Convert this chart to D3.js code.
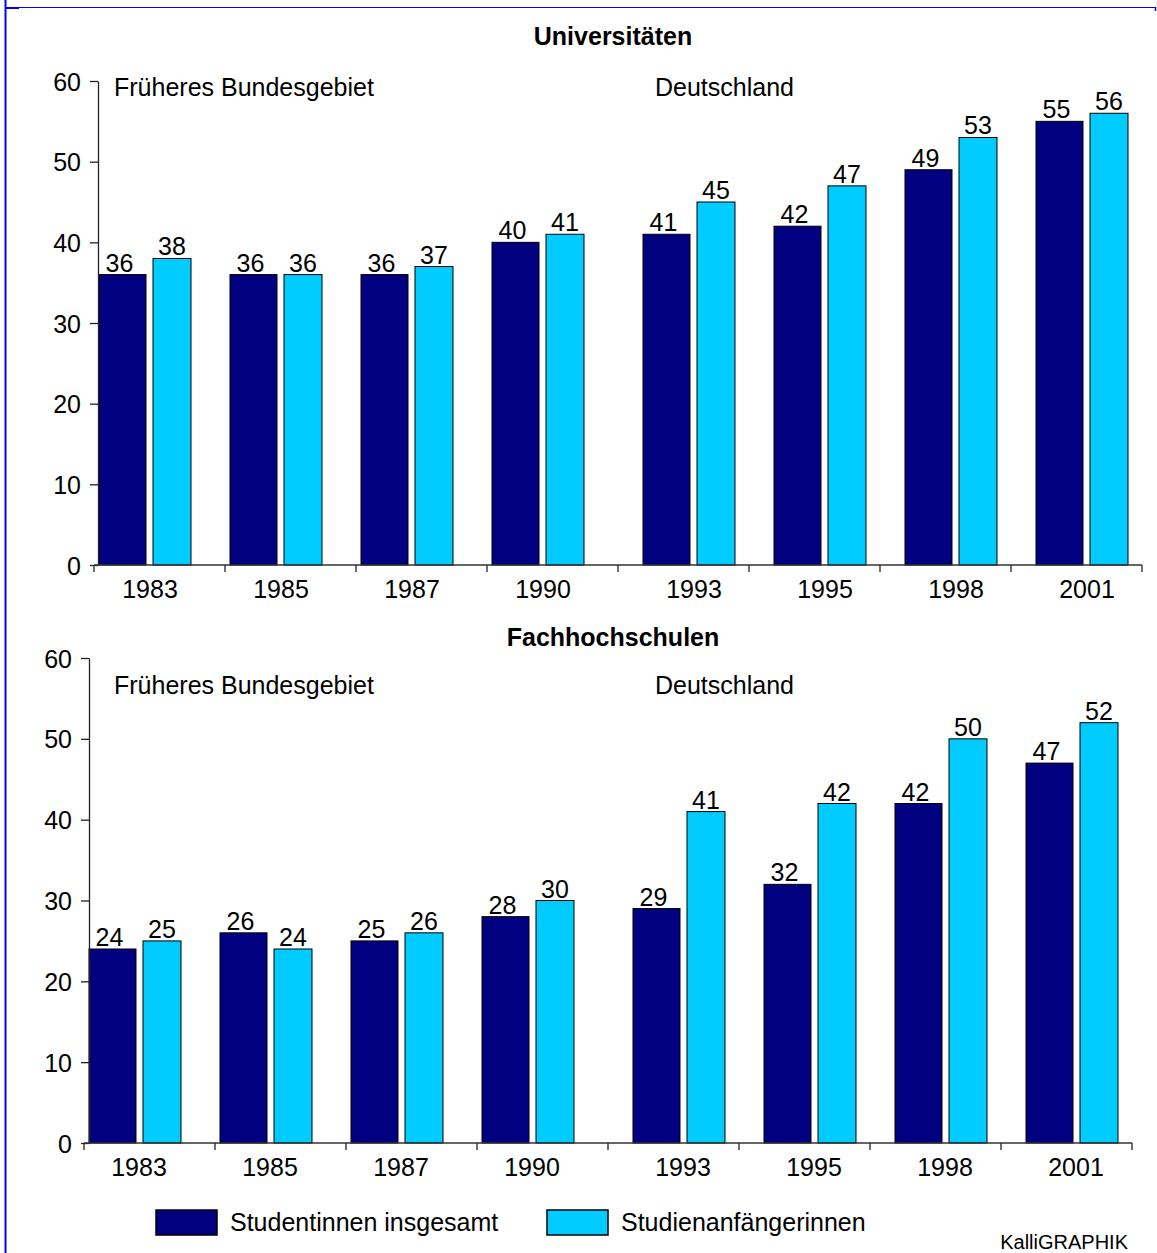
<!DOCTYPE html>
<html>
<head>
  <meta charset="utf-8">
  <title>Studentinnen und Studienanfängerinnen</title>
  <script src="https://d3js.org/d3.v7.min.js"></script>
  <style>
    body { margin: 0; overflow: hidden; background: #fff; }
    text { font-family: "Liberation Sans", Arial, sans-serif; fill: #000; }
  </style>
</head>
<body>
<svg width="1157" height="1253"></svg>
<script>
// --- Daten ---
const jahre = ["1983","1985","1987","1990","1993","1995","1998","2001"];
const gebiet = ["FB","FB","FB","FB","D","D","D","D"];
const uniInsgesamt = [36,36,36,40,41,42,49,55];
const uniAnfaenger = [38,36,37,41,45,47,53,56];
const fhInsgesamt = [24,26,25,28,29,32,42,47];
const fhAnfaenger = [25,24,26,30,41,42,50,52];
const yTicks = [0,10,20,30,40,50,60];
const serien = ["Studentinnen insgesamt","Studienanfängerinnen"];
const farben = ["#000080","#00CCFF"];

const svg = d3.select("svg");
const fs = "25px";

// blauer Rahmen
svg.append("line").attr("x1",5.5).attr("x2",5.5).attr("y1",0).attr("y2",1253)
  .attr("stroke","#0000ff").attr("stroke-width",2);
svg.append("line").attr("x1",5).attr("x2",1156).attr("y1",7.5).attr("y2",7.5)
  .attr("stroke","#0000ff").attr("stroke-width",1.2);
svg.append("rect").attr("x",6).attr("y",7).attr("width",13).attr("height",2).attr("fill","#0000ff");
svg.append("line").attr("x1",1155.5).attr("x2",1155.5).attr("y1",7).attr("y2",11)
  .attr("stroke","#0000ff").attr("stroke-width",1.5);

// Panel-Definitionen
const panels = [
  {titel:"Universitäten", a:uniInsgesamt, b:uniAnfaenger, titelY:45,
   y0:565, y1:81, axisX:98, x0:94, x1:1142, regionY:96, labelY:598, lblShift:5},
  {titel:"Fachhochschulen", a:fhInsgesamt, b:fhAnfaenger, titelY:646,
   y0:1143, y1:658, axisX:89, x0:84, x1:1132, regionY:694, labelY:1176, lblShift:4}
];

// Verschiebung der Balkengruppe im Band je Gebiet
const shift = {FB:5, D:25};
const wA = 47, wB = 38, gap = 7;

panels.forEach(p => {
  const g = svg.append("g");
  const y = d3.scaleLinear().domain([0,60]).range([p.y0,p.y1]);
  const x = d3.scaleBand().domain(jahre).range([p.x0,p.x1]).padding(0);

  g.append("text").attr("x",613).attr("y",p.titelY).attr("text-anchor","middle")
    .style("font-size",fs).style("font-weight","bold").text(p.titel);

  g.append("text").attr("x",114).attr("y",p.regionY).style("font-size",fs).text("Früheres Bundesgebiet");
  g.append("text").attr("x",655).attr("y",p.regionY).style("font-size",fs).text("Deutschland");

  const rows = jahre.map((j,i) => ({j, gb:gebiet[i], a:p.a[i], b:p.b[i]}));
  const xa = d => x(d.j) + shift[d.gb];
  const xb = d => xa(d) + wA + gap;

  g.selectAll(".barA").data(rows).join("rect").attr("class","barA")
    .attr("x", xa).attr("width", wA)
    .attr("y", d => y(d.a)).attr("height", d => y(0) - y(d.a))
    .attr("fill", farben[0]).attr("stroke","#000").attr("stroke-width",1);
  g.selectAll(".barB").data(rows).join("rect").attr("class","barB")
    .attr("x", xb).attr("width", wB)
    .attr("y", d => y(d.b)).attr("height", d => y(0) - y(d.b))
    .attr("fill", farben[1]).attr("stroke","#000").attr("stroke-width",1);

  // Werte
  g.selectAll(".valA").data(rows).join("text").attr("class","valA")
    .attr("x", d => xa(d) + wA/2 - 3).attr("y", d => y(d.a) - 3)
    .attr("text-anchor","middle").style("font-size",fs).text(d => d.a);
  g.selectAll(".valB").data(rows).join("text").attr("class","valB")
    .attr("x", d => xb(d) + wB/2).attr("y", d => y(d.b) - 3)
    .attr("text-anchor","middle").style("font-size",fs).text(d => d.b);

  // y-Achse
  const ya = g.append("g").attr("transform",`translate(${p.axisX},0)`)
    .call(d3.axisLeft(y).tickValues(yTicks).tickSize(8).tickSizeOuter(0).tickPadding(9));
  ya.selectAll("path,line").attr("stroke","#222").attr("stroke-width",1.3);
  ya.selectAll("text").style("font-size",fs).style("font-family","Liberation Sans, Arial, sans-serif")
    .attr("fill","#000").attr("dy","0.36em");

  // x-Achse
  g.append("line").attr("x1",p.x0).attr("x2",p.x1).attr("y1",y(0)).attr("y2",y(0))
    .attr("stroke","#333").attr("stroke-width",1.5);
  const grenzen = jahre.map(j => x(j)).concat([x(jahre[jahre.length-1]) + x.bandwidth()]);
  g.selectAll(".xt").data(grenzen).join("line").attr("class","xt")
    .attr("x1", d => d).attr("x2", d => d).attr("y1", y(0)).attr("y2", y(0) + 7)
    .attr("stroke","#222").attr("stroke-width",1.3);
  g.selectAll(".xl").data(rows).join("text").attr("class","xl")
    .attr("x", d => xa(d) + (wA + gap + wB)/2 + p.lblShift).attr("y", p.labelY)
    .attr("text-anchor","middle").style("font-size",fs).text(d => d.j);
});

// Legende
const leg = svg.append("g");
const legX = [156, 547];
serien.forEach((s,i) => {
  leg.append("rect").attr("x",legX[i]).attr("y",1210).attr("width",61).attr("height",25)
    .attr("fill",farben[i]).attr("stroke","#000").attr("stroke-width",1.5);
  leg.append("text").attr("x",legX[i] + 74).attr("y",1231).style("font-size",fs).text(s);
});

svg.append("text").attr("x",1128).attr("y",1249).attr("text-anchor","end")
  .style("font-size","20px").text("KalliGRAPHIK");
</script>
</body>
</html>
